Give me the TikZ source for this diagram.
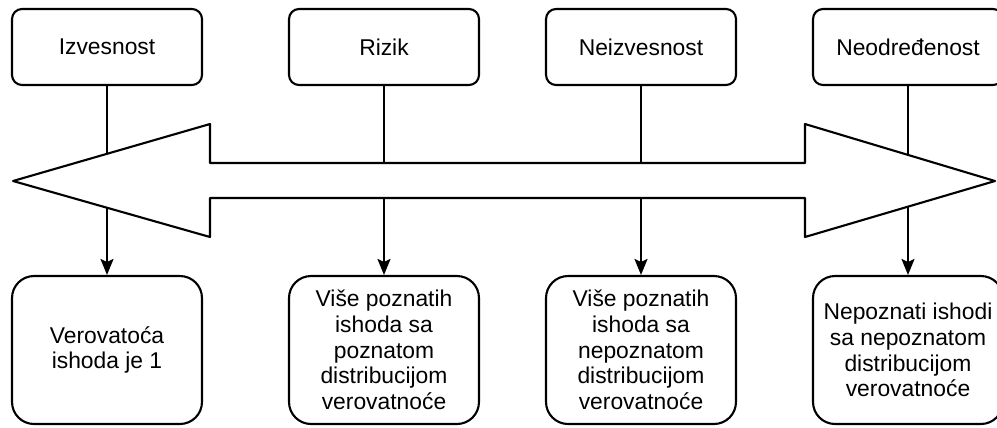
\documentclass[tikz,border=0pt]{standalone}
\usepackage{fontspec}
\setmainfont{Liberation Sans}
\usetikzlibrary{arrows.meta}

\begin{document}
\begin{tikzpicture}[x=0.02cm, y=-0.02cm, line width=1.2pt, >={Stealth[length=0.32cm, width=0.26cm, inset=0.06cm]}]
        \tikzstyle{every node}=[font=\fontsize{13pt}{14.6pt}\selectfont, align=center]
        \tikzstyle{state}=[draw, rounded corners=0.2cm, minimum width=3.8cm, minimum height=1.52cm]
        \tikzstyle{outcome}=[draw, rounded corners=0.44cm, minimum width=3.8cm, minimum height=2.96cm, inner sep=0pt]
        \useasboundingbox (0,0) rectangle (997,427);
        \node [state] (izv) at (107,47) {Izvesnost};
        \node [state] (riz) at (384,47) {Rizik};
        \node [state] (neiz) at (641,47) {Neizvesnost};
        \node [state] (neod) at (908,47) {Neodređenost};
        \node [outcome] (ver) at (107,350) {Verovatoća\\ishoda je 1};
        \node [outcome] (pozn) at (384,350) {Više poznatih\\ishoda sa\\poznatom\\distribucijom\\verovatnoće};
        \node [outcome] (nepozn) at (641,350) {Više poznatih\\ishoda sa\\nepoznatom\\distribucijom\\verovatnoće};
        \node [outcome] (nepish) at (908,350) {Nepoznati ishodi\\sa nepoznatom\\distribucijom\\verovatnoće};
        \draw [->] (izv) -- (ver);
        \draw [->] (riz) -- (pozn);
        \draw [->] (neiz) -- (nepozn);
        \draw [->] (neod) -- (nepish);
        \draw [fill=white, line join=round] (13,181) -- (210,124) -- (210,163) -- (805,163) -- (805,124) -- (995,181) -- (805,237) -- (805,198) -- (210,198) -- (210,237) -- cycle;
    \end{tikzpicture}
\end{document}
